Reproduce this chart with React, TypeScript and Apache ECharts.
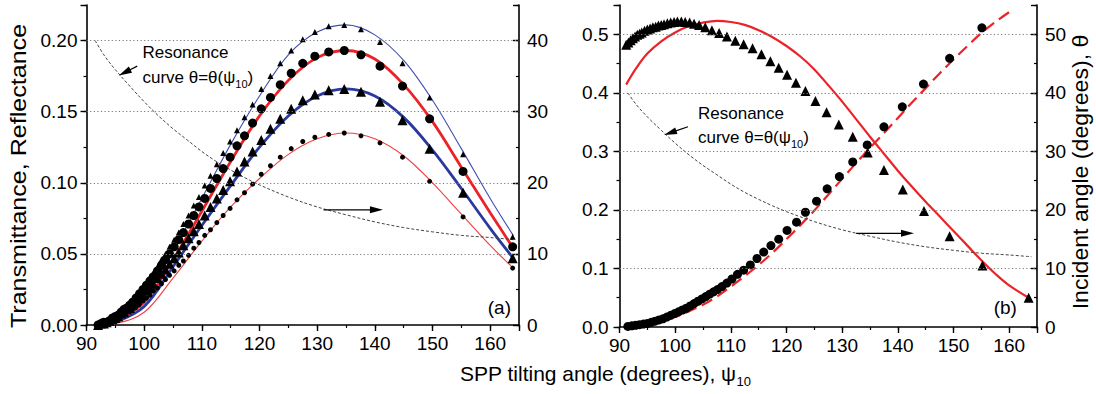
import React, { useEffect, useRef } from 'react';
import * as echarts from 'echarts';

const FONT = '"Liberation Sans", Arial, Helvetica, sans-serif';

// ---------- Panel (a) ----------
const A_MARK_X = [92.0, 92.5, 93.0, 93.5, 94.0, 94.5, 95.0, 95.5, 96.0, 96.5, 97.0, 97.5, 98.0, 98.6, 99.2, 99.8, 100.4, 101.0, 101.6, 102.3, 103.0, 103.7, 104.4, 105.2, 106.0, 106.8, 107.7, 108.6, 109.5, 110.5, 111.5, 112.6, 113.7, 114.9, 116.1, 117.4, 118.8, 120.3, 121.9, 123.6, 125.5, 127.5, 129.6, 132.0, 134.7, 137.6, 140.9, 144.8, 149.5, 155.3, 163.9];
const A_SMALL_TRI = [0, 0.001, 0.002, 0.003, 0.004, 0.005, 0.007, 0.008, 0.010, 0.012, 0.014, 0.016, 0.018, 0.021, 0.024, 0.027, 0.030, 0.034, 0.037, 0.041, 0.046, 0.050, 0.055, 0.060, 0.065, 0.071, 0.077, 0.084, 0.090, 0.098, 0.105, 0.113, 0.121, 0.129, 0.137, 0.146, 0.155, 0.166, 0.175, 0.184, 0.193, 0.201, 0.206, 0.210, 0.211, 0.208, 0.199, 0.184, 0.160, 0.120, 0.062];
const A_BIG_CIRC = [0, 0.001, 0.002, 0.002, 0.003, 0.005, 0.006, 0.007, 0.009, 0.011, 0.012, 0.014, 0.016, 0.019, 0.022, 0.025, 0.028, 0.031, 0.034, 0.038, 0.042, 0.046, 0.050, 0.055, 0.060, 0.065, 0.071, 0.077, 0.083, 0.089, 0.096, 0.103, 0.110, 0.118, 0.126, 0.133, 0.142, 0.152, 0.160, 0.169, 0.177, 0.184, 0.189, 0.192, 0.193, 0.190, 0.182, 0.168, 0.145, 0.108, 0.055];
const A_BIG_TRI = [0, 0.001, 0.001, 0.002, 0.003, 0.004, 0.005, 0.006, 0.008, 0.009, 0.011, 0.012, 0.014, 0.016, 0.019, 0.021, 0.024, 0.026, 0.029, 0.033, 0.036, 0.039, 0.043, 0.047, 0.051, 0.056, 0.061, 0.066, 0.071, 0.077, 0.083, 0.089, 0.095, 0.101, 0.108, 0.115, 0.122, 0.130, 0.138, 0.145, 0.152, 0.158, 0.162, 0.165, 0.166, 0.164, 0.157, 0.144, 0.124, 0.093, 0.047];
const A_SMALL_CIRC = [0, 0.001, 0.001, 0.002, 0.002, 0.003, 0.004, 0.005, 0.006, 0.007, 0.009, 0.010, 0.011, 0.013, 0.015, 0.017, 0.019, 0.021, 0.024, 0.026, 0.029, 0.032, 0.035, 0.038, 0.042, 0.045, 0.049, 0.054, 0.058, 0.063, 0.067, 0.072, 0.077, 0.082, 0.088, 0.093, 0.099, 0.106, 0.112, 0.118, 0.124, 0.129, 0.132, 0.134, 0.135, 0.133, 0.128, 0.118, 0.101, 0.076, 0.040];

const A_LINE_X = [92, 95, 100, 105, 110, 115, 120, 125, 130, 135, 140, 145, 150, 155, 160, 164];
const A_THIN_BLUE = [0, 0.004, 0.020, 0.052, 0.089, 0.127, 0.161, 0.190, 0.206, 0.211, 0.204, 0.186, 0.158, 0.124, 0.089, 0.063];
const A_THICK_RED = [0, 0.003, 0.016, 0.046, 0.080, 0.115, 0.147, 0.172, 0.188, 0.193, 0.187, 0.169, 0.143, 0.111, 0.079, 0.054];
const A_THICK_BLUE = [0, 0.002, 0.013, 0.041, 0.070, 0.098, 0.125, 0.147, 0.161, 0.166, 0.161, 0.146, 0.123, 0.096, 0.068, 0.047];
const A_THIN_RED = [0, 0.001, 0.009, 0.033, 0.059, 0.083, 0.103, 0.120, 0.131, 0.135, 0.131, 0.119, 0.100, 0.078, 0.056, 0.040];

// Resonance curve theta(psi10), right axes (degrees)
const RES_X = [91.5, 93, 95, 97.5, 100, 102.5, 105, 107.5, 110, 112.5, 115, 117.5, 120, 125, 130, 135, 140, 145, 150, 155, 160, 164];
const RES_THETA = [40.0, 38.0, 35.9, 33.6, 31.4, 29.4, 27.6, 26.0, 24.4, 23.0, 21.8, 20.7, 19.7, 18.0, 16.6, 15.5, 14.5, 13.7, 13.1, 12.6, 12.3, 12.0];

// ---------- Panel (b) ----------
const B_TRI_X = [91.2, 91.6, 92.0, 92.4, 92.8, 93.2, 93.6, 94.0, 94.5, 95.0, 95.5, 96.0, 96.5, 97.0, 97.5, 98.0, 98.6, 99.2, 99.8, 100.4, 101.1, 101.8, 102.6, 103.4, 104.3, 105.4, 106.6, 107.9, 109.3, 110.8, 112.3, 113.9, 115.5, 117.1, 118.6, 120.1, 121.7, 123.4, 125.2, 127.2, 129.4, 131.9, 134.6, 137.5, 140.9, 144.7, 149.3, 155.2, 163.5];
const B_TRI_Y = [0.482, 0.486, 0.490, 0.493, 0.496, 0.499, 0.501, 0.503, 0.506, 0.508, 0.510, 0.512, 0.513, 0.515, 0.516, 0.517, 0.519, 0.520, 0.521, 0.522, 0.522, 0.521, 0.520, 0.518, 0.516, 0.512, 0.507, 0.502, 0.496, 0.489, 0.483, 0.476, 0.466, 0.454, 0.443, 0.431, 0.417, 0.403, 0.386, 0.367, 0.346, 0.325, 0.298, 0.268, 0.235, 0.198, 0.155, 0.105, 0.050];
const B_CIRC_X = [91.5, 92.2, 92.9, 93.6, 94.3, 95.0, 95.7, 96.4, 97.1, 97.8, 98.5, 99.2, 99.9, 100.6, 101.3, 102.0, 102.7, 103.4, 104.1, 104.8, 105.5, 106.2, 106.9, 107.6, 108.4, 109.3, 110.2, 111.2, 112.3, 113.5, 114.7, 115.9, 117.2, 118.6, 120.1, 121.8, 123.4, 125.4, 127.3, 129.5, 131.9, 134.5, 137.5, 140.8, 144.6, 149.3, 155.1];
const B_CIRC_Y = [0.001, 0.002, 0.003, 0.004, 0.005, 0.006, 0.008, 0.010, 0.012, 0.014, 0.017, 0.020, 0.023, 0.026, 0.029, 0.032, 0.036, 0.040, 0.044, 0.048, 0.052, 0.056, 0.060, 0.064, 0.069, 0.075, 0.082, 0.090, 0.097, 0.106, 0.117, 0.128, 0.139, 0.150, 0.165, 0.179, 0.196, 0.215, 0.236, 0.257, 0.282, 0.311, 0.342, 0.376, 0.415, 0.459, 0.511];
const B_SOLID_X = [91.2, 93, 95, 97.5, 100, 102.5, 105, 107.5, 110, 112.5, 115, 117.5, 120, 122.5, 125, 127.5, 130, 132.5, 135, 137.5, 140, 142.5, 145, 147.5, 150, 152.5, 155, 157.5, 160, 163.5];
const B_SOLID_Y = [0.414, 0.442, 0.467, 0.488, 0.503, 0.514, 0.520, 0.523, 0.521, 0.516, 0.507, 0.495, 0.480, 0.462, 0.440, 0.413, 0.385, 0.355, 0.325, 0.296, 0.267, 0.240, 0.214, 0.189, 0.164, 0.139, 0.114, 0.091, 0.071, 0.050];
const B_DASH_X = [92.5, 95, 97.5, 100, 102.5, 105, 107.5, 110, 112.5, 115, 117.5, 120, 122.5, 125, 127.5, 130, 132.5, 135, 137.5, 140, 142.5, 145, 147.5, 150, 152.5, 155, 157.5, 160.5];
const B_DASH_Y = [0, 0.004, 0.010, 0.017, 0.027, 0.038, 0.052, 0.069, 0.087, 0.106, 0.127, 0.150, 0.174, 0.199, 0.226, 0.253, 0.280, 0.306, 0.331, 0.357, 0.383, 0.408, 0.433, 0.457, 0.480, 0.502, 0.521, 0.541];

// gridline levels (left axis units)
const A_GRID_LEVELS = [0.05, 0.1, 0.15, 0.2];
const B_GRID_LEVELS = [0.1, 0.2, 0.3, 0.4, 0.5];

const zip = (xs: number[], ys: number[]) => xs.map((x, i) => [x, ys[i]]);
const isMult = (v: number, s: number) => Math.abs(v / s - Math.round(v / s)) < 1e-6;

const TICK_COLOR = '#000';

function xPair(gridIndex: number) {
  const common: any = { type: 'value', gridIndex, position: 'bottom', min: 90, max: 165, splitLine: { show: false } };
  return [
    {
      ...common,
      interval: 10,
      axisLine: { show: true, onZero: false, lineStyle: { color: '#000', width: 1.6 } },
      axisTick: { show: true, length: 6, lineStyle: { color: TICK_COLOR, width: 1.4 } },
      axisLabel: {
        show: true, color: '#000', fontSize: 19, fontFamily: FONT, margin: 9,
        formatter: (v: number) => (isMult(v, 10) ? String(Math.round(v)) : ''),
      },
    },
    {
      ...common,
      interval: 5,
      axisLine: { show: false, onZero: false },
      axisTick: { show: true, length: 3, lineStyle: { color: TICK_COLOR, width: 1.2 } },
      axisLabel: { show: false },
    },
  ];
}

function yPair(gridIndex: number, position: string, max: number, major: number, minor: number,
  fmt: (v: number) => string, inside: boolean, margin: number) {
  const common: any = { type: 'value', gridIndex, position, min: 0, max, splitLine: { show: false } };
  return [
    {
      ...common,
      interval: major,
      axisLine: { show: true, onZero: false, lineStyle: { color: '#000', width: 1.6 } },
      axisTick: { show: true, inside, length: 6, lineStyle: { color: TICK_COLOR, width: 1.4 } },
      axisLabel: { show: true, color: '#000', fontSize: 19, fontFamily: FONT, margin, formatter: fmt },
    },
    {
      ...common,
      interval: minor,
      axisLine: { show: false, onZero: false },
      axisTick: { show: true, inside, length: 3, lineStyle: { color: TICK_COLOR, width: 1.2 } },
      axisLabel: { show: false },
    },
  ];
}

const fmtA = (v: number) => (isMult(v, 0.05) ? v.toFixed(2) : '');
const fmtB = (v: number) => (isMult(v, 0.1) ? v.toFixed(1) : '');
const fmtDeg = (v: number) => (isMult(v, 10) ? String(Math.round(v)) : '');

function gridSeries(xi: number, yi: number, levels: number[]) {
  return {
    type: 'line', xAxisIndex: xi, yAxisIndex: yi, data: [[90, 0]], symbol: 'none',
    lineStyle: { opacity: 0 }, silent: true, z: 0,
    markLine: {
      silent: true, symbol: ['none', 'none'], label: { show: false },
      lineStyle: { type: [1.2, 2.4], color: '#7a7a7a', width: 1 },
      emphasis: { disabled: true },
      data: levels.map((v) => ({ yAxis: v })),
    },
  };
}

function lineSeries(xi: number, yi: number, xs: number[], ys: number[], color: string, width: number, type: any = 'solid') {
  return {
    type: 'line', xAxisIndex: xi, yAxisIndex: yi, data: zip(xs, ys), symbol: 'none',
    smooth: 0.35, lineStyle: { color, width, type }, z: 3, silent: true,
  };
}

function scatterSeries(xi: number, yi: number, xs: number[], ys: number[], symbol: string, size: number) {
  return {
    type: 'scatter', xAxisIndex: xi, yAxisIndex: yi, data: zip(xs, ys), symbol, symbolSize: size,
    itemStyle: { color: '#000', opacity: 1 }, z: 4, silent: true,
  };
}

function buildOption(): any {
  return {
    animation: false,
    backgroundColor: '#fff',
    grid: [
      { left: 86.5, right: 577, top: 5, bottom: 69, show: false },
      { left: 619.5, right: 59, top: 5, bottom: 67, show: false },
    ],
    xAxis: [...xPair(0), ...xPair(1)],
    yAxis: [
      ...yPair(0, 'left', 0.225, 0.05, 0.025, fmtA, false, 9),
      ...yPair(0, 'right', 45, 10, 5, fmtDeg, true, 8),
      ...yPair(1, 'left', 0.55, 0.1, 0.05, fmtB, false, 11),
      ...yPair(1, 'right', 55, 10, 5, fmtDeg, true, 8),
    ],
    series: [
      gridSeries(0, 0, A_GRID_LEVELS), // 0
      lineSeries(0, 0, A_LINE_X, A_THIN_BLUE, '#3f4cb0', 1.1), // 1
      lineSeries(0, 0, A_LINE_X, A_THICK_RED, '#ec2229', 2.8), // 2
      lineSeries(0, 0, A_LINE_X, A_THICK_BLUE, '#2b399e', 2.8), // 3
      lineSeries(0, 0, A_LINE_X, A_THIN_RED, '#ee4040', 1.1), // 4
      scatterSeries(0, 0, A_MARK_X, A_SMALL_TRI, 'triangle', 6), // 5
      scatterSeries(0, 0, A_MARK_X, A_BIG_CIRC, 'circle', 9), // 6
      scatterSeries(0, 0, A_MARK_X, A_BIG_TRI, 'triangle', 10), // 7
      scatterSeries(0, 0, A_MARK_X, A_SMALL_CIRC, 'circle', 5), // 8
      lineSeries(0, 2, RES_X, RES_THETA, '#444', 1, [3, 2]), // 9
      gridSeries(2, 4, B_GRID_LEVELS), // 10
      lineSeries(2, 4, B_SOLID_X, B_SOLID_Y, '#ec2229', 2.2), // 11
      lineSeries(2, 4, B_DASH_X, B_DASH_Y, '#ec2229', 2.2, [12, 6]), // 12
      scatterSeries(2, 4, B_TRI_X, B_TRI_Y, 'triangle', 10), // 13
      scatterSeries(2, 4, B_CIRC_X, B_CIRC_Y, 'circle', 9), // 14
      lineSeries(2, 6, RES_X, RES_THETA, '#444', 1, [3, 2]), // 15
    ],
  };
}

function arrow(p0: number[], p1: number[]) {
  const dx = p1[0] - p0[0];
  const dy = p1[1] - p0[1];
  const len = Math.sqrt(dx * dx + dy * dy) || 1;
  const ux = dx / len, uy = dy / len;
  const L = 13, W = 3.5;
  const bx = p1[0] - ux * L, by = p1[1] - uy * L;
  return [
    { type: 'line', silent: true, z: 50, shape: { x1: p0[0], y1: p0[1], x2: bx + ux * 2, y2: by + uy * 2 }, style: { stroke: '#000', lineWidth: 1.2 } },
    { type: 'polygon', silent: true, z: 50, shape: { points: [[p1[0], p1[1]], [bx - uy * W, by + ux * W], [bx + uy * W, by - ux * W]] }, style: { fill: '#000' } },
  ];
}

const TXT_STYLE = { fill: '#000', fontFamily: FONT };

function annotText(p: number[], line1: string) {
  return {
    type: 'text', silent: true, z: 50, x: p[0], y: p[1],
    style: { ...TXT_STYLE, text: line1, fontSize: 17, font: `17px ${FONT}`, textAlign: 'left', align: 'left', textVerticalAlign: 'middle', verticalAlign: 'middle' },
  };
}

function curveText(p: number[]) {
  return {
    type: 'text', silent: true, z: 50, x: p[0], y: p[1],
    style: {
      text: '{n|curve θ=θ(ψ}{s|10}{n|)}',
      fill: '#000',
      textAlign: 'left', align: 'left', textVerticalAlign: 'middle', verticalAlign: 'middle',
      rich: {
        n: { fontSize: 17, fontFamily: FONT, fill: '#000', color: '#000', lineHeight: 24, verticalAlign: 'middle' },
        s: { fontSize: 11, fontFamily: FONT, fill: '#000', color: '#000', lineHeight: 24, verticalAlign: 'bottom' },
      },
    },
  };
}

function buildGraphics(chart: any) {
  const pa = (x: number, t: number) => chart.convertToPixel({ seriesIndex: 9 }, [x, t]);
  const pb = (x: number, t: number) => chart.convertToPixel({ seriesIndex: 15 }, [x, t]);
  const els: any[] = [];

  // Panel (a) annotations
  els.push(annotText(pa(99.7, 38.3), 'Resonance'));
  els.push(curveText(pa(99.7, 34.8)));
  els.push(...arrow(pa(98.8, 36.4), pa(95.6, 35.1)));
  els.push(...arrow(pa(131.1, 16.2), pa(141.4, 16.2)));
  const la = pa(161.6, 2.4);
  els.push({ type: 'text', silent: true, z: 50, x: la[0], y: la[1], style: { ...TXT_STYLE, text: '(a)', fontSize: 19, font: `19px ${FONT}`, textAlign: 'center', align: 'center', textVerticalAlign: 'middle', verticalAlign: 'middle' } });

  // Panel (b) annotations
  els.push(annotText(pb(104.1, 36.5), 'Resonance'));
  els.push(curveText(pb(104.1, 32.4)));
  els.push(...arrow(pb(102.3, 34.2), pb(98.0, 32.8)));
  els.push(...arrow(pb(132.5, 16.0), pb(142.9, 16.0)));
  const lb = pb(159.3, 3.4);
  els.push({ type: 'text', silent: true, z: 50, x: lb[0], y: lb[1], style: { ...TXT_STYLE, text: '(b)', fontSize: 19, font: `19px ${FONT}`, textAlign: 'center', align: 'center', textVerticalAlign: 'middle', verticalAlign: 'middle' } });

  // Axis titles
  els.push({
    type: 'text', silent: true, z: 50, x: 19, y: 176, rotation: Math.PI / 2, scaleX: 1.14,
    style: { ...TXT_STYLE, text: 'Transmittance, Reflectance', fontSize: 22, font: `22px ${FONT}`, textAlign: 'center', align: 'center', textVerticalAlign: 'middle', verticalAlign: 'middle' },
  });
  els.push({
    type: 'text', silent: true, z: 50, x: 1081, y: 172, rotation: Math.PI / 2, scaleX: 1.05,
    style: { ...TXT_STYLE, text: 'Incident angle (degrees), θ', fontSize: 22, font: `22px ${FONT}`, textAlign: 'center', align: 'center', textVerticalAlign: 'middle', verticalAlign: 'middle' },
  });
  els.push({
    type: 'text', silent: true, z: 50, x: 460, y: 373,
    style: {
      text: '{a|SPP tilting angle (degrees), ψ}{s|10}',
      fill: '#000',
      textAlign: 'left', align: 'left', textVerticalAlign: 'middle', verticalAlign: 'middle',
      rich: {
        a: { fontSize: 21, fontFamily: FONT, fill: '#000', color: '#000', lineHeight: 30, verticalAlign: 'middle' },
        s: { fontSize: 13, fontFamily: FONT, fill: '#000', color: '#000', lineHeight: 30, verticalAlign: 'bottom' },
      },
    },
  });
  return els;
}

export default function App() {
  const ref = useRef<HTMLDivElement>(null);
  useEffect(() => {
    const el = ref.current;
    if (!el) return;
    const chart = echarts.init(el, null, { renderer: 'svg' });
    chart.setOption(buildOption());
    chart.setOption({ graphic: buildGraphics(chart) });
    return () => chart.dispose();
  }, []);
  return (
    <div
      ref={ref}
      style={{ position: 'fixed', left: 0, top: 0, width: 1096, height: 394, background: '#fff' }}
    />
  );
}
